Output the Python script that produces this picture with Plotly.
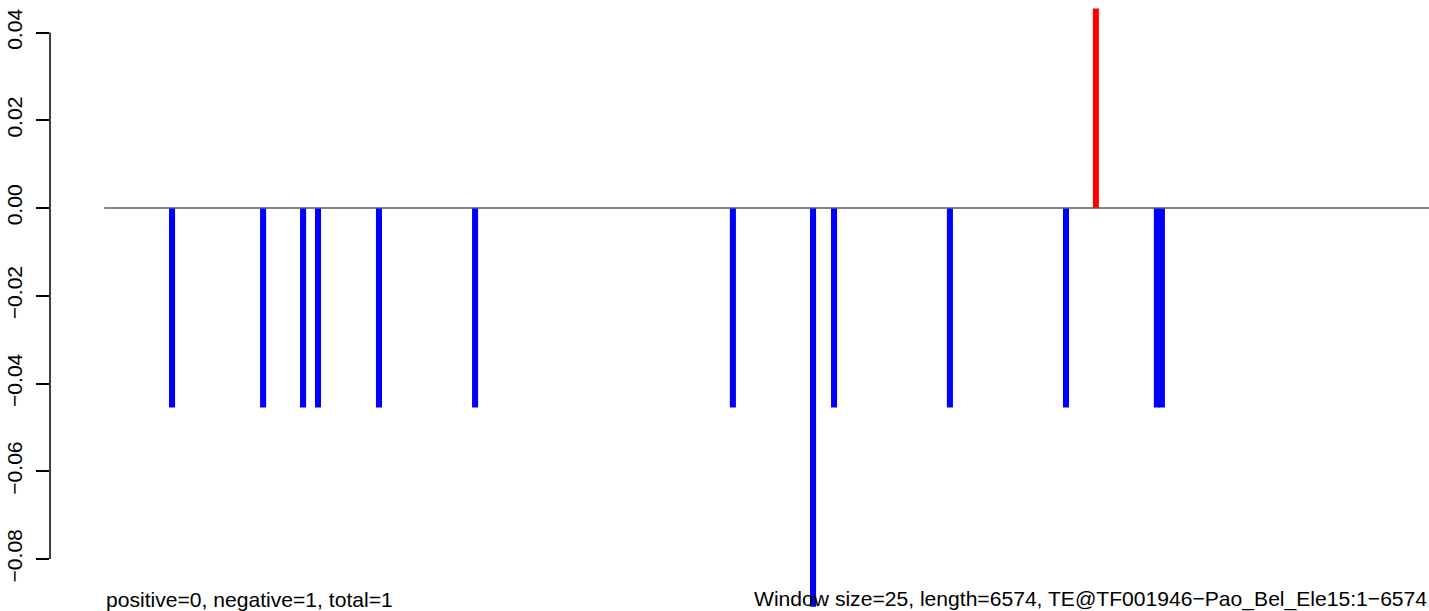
import plotly.graph_objects as go

# Window positions (bp) and scores
neg_pos = [337, 788, 986, 1060, 1362, 1838, 3115, 3512, 3616, 4190, 4765, 5215, 5240]
neg_val = [-0.04545, -0.04545, -0.04545, -0.04545, -0.04545, -0.04545, -0.04545,
           -0.0909, -0.04545, -0.04545, -0.04545, -0.04545, -0.04545]
pos_pos = [4913]
pos_val = [0.04545]

seq_start = 1
seq_length = 6574

y_tickvals = [-0.08, -0.06, -0.04, -0.02, 0.00, 0.02, 0.04]
y_ticktext = ["\u22120.08", "\u22120.06", "\u22120.04", "\u22120.02", "0.00", "0.02", "0.04"]

left_text = "positive=0, negative=1, total=1"
right_text = "Window size=25, length=6574, TE@TF001946\u2212Pao_Bel_Ele15:1\u22126574"

FONT = "Liberation Sans, Arial, Helvetica, sans-serif"
FS = 21.1

fig = go.Figure()

fig.add_trace(go.Scatter(
    x=[seq_start, seq_length], y=[0, 0], mode="lines",
    line=dict(color="#5a5a5a", width=1.5), hoverinfo="skip", showlegend=False,
))
fig.add_trace(go.Bar(
    x=neg_pos, y=neg_val, base=0, width=30,
    marker=dict(color="#0000ff", line=dict(width=0)), showlegend=False,
))
fig.add_trace(go.Bar(
    x=pos_pos, y=pos_val, base=0, width=30,
    marker=dict(color="#ff0000", line=dict(width=0)), showlegend=False,
))

fig.update_layout(
    width=1429, height=611,
    margin=dict(l=50, r=0, t=0, b=0),
    plot_bgcolor="white", paper_bgcolor="white",
    barmode="overlay",
    font=dict(family=FONT, color="black", size=FS),
    xaxis=dict(visible=False, range=[-267.5, 6563]),
    yaxis=dict(
        range=[-0.09185, 0.04741],
        tickmode="array", tickvals=y_tickvals, ticktext=y_ticktext,
        tickangle=-90, ticks="outside", ticklen=13, tickwidth=1.5, tickcolor="black",
        showline=False, showgrid=False, zeroline=False,
        tickfont=dict(family=FONT, size=FS, color="black"),
        ticklabelstandoff=6,
    ),
    shapes=[dict(
        type="line", xref="paper", yref="y", x0=0, x1=0,
        y0=y_tickvals[0], y1=y_tickvals[-1],
        line=dict(color="black", width=1.5),
    )],
    annotations=[
        dict(text=left_text, xref="x", yref="paper", x=0, y=(611 - 599) / 611,
             xanchor="left", yanchor="middle", showarrow=False,
             font=dict(family=FONT, size=FS, color="black")),
        dict(text=right_text, xref="paper", yref="paper", x=1.0, xshift=0,
             y=(611 - 599) / 611, xanchor="right", yanchor="middle", showarrow=False,
             font=dict(family=FONT, size=FS, color="black")),
    ],
)

fig.write_html(
    "out.html",
    config={"displayModeBar": False},
    post_script="document.body.style.margin='0';document.body.style.overflow='hidden';",
)
